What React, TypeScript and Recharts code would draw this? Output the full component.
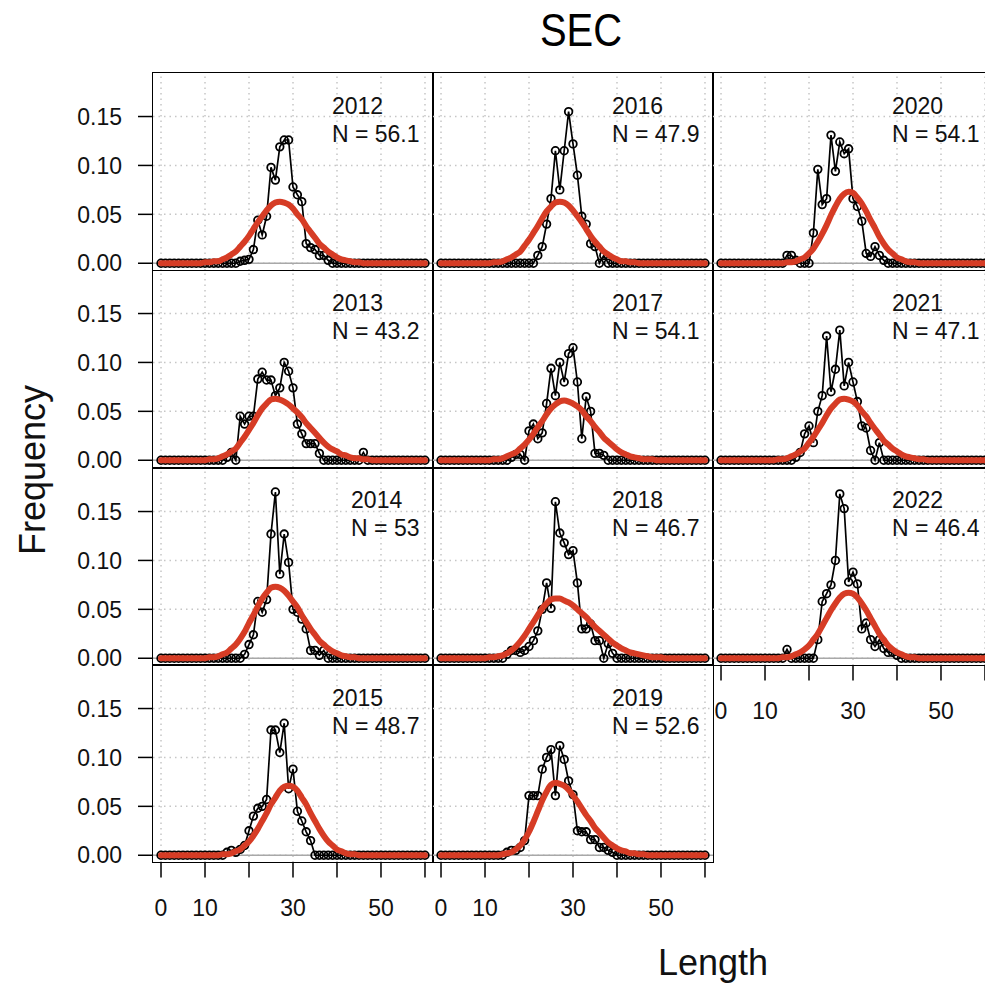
import React from 'react';
import { ComposedChart, Line, XAxis, YAxis, ReferenceLine } from 'recharts';

// length bins (cm)
const LENGTHS = Array.from({ length: 61 }, (_, i) => i);
const X_TICKS = [0, 10, 20, 30, 40, 50, 60];
const X_LABELLED = [0, 10, 30, 50];
const Y_TICKS = [0, 0.05, 0.1, 0.15];

// observed proportions, lengths 14..46 (zero elsewhere)
const OBS_FROM = 14;
const obs2012 = [0, 0, 0, 0, 0.002, 0.003, 0.004, 0.014, 0.044, 0.029, 0.048, 0.098, 0.085, 0.119, 0.126, 0.126, 0.078, 0.07, 0.063, 0.02, 0.016, 0.014, 0.008, 0.008, 0.003, 0, 0, 0, 0, 0, 0, 0, 0];
const obs2013 = [0, 0.003, 0.008, 0, 0.045, 0.037, 0.045, 0.045, 0.083, 0.09, 0.082, 0.082, 0.066, 0.074, 0.1, 0.091, 0.074, 0.037, 0.027, 0.017, 0.017, 0.017, 0.007, 0, 0, 0, 0, 0, 0, 0, 0, 0, 0.008];
const obs2014 = [0, 0, 0, 0, 0, 0.004, 0.014, 0.024, 0.058, 0.047, 0.06, 0.127, 0.17, 0.086, 0.127, 0.098, 0.05, 0.047, 0.04, 0.03, 0.008, 0.008, 0.003, 0.008, 0, 0, 0, 0, 0, 0, 0, 0, 0];
const obs2015 = [0, 0.003, 0.005, 0.003, 0.006, 0.01, 0.025, 0.04, 0.048, 0.05, 0.057, 0.128, 0.128, 0.105, 0.135, 0.068, 0.088, 0.045, 0.035, 0.024, 0.015, 0, 0, 0, 0, 0, 0, 0, 0, 0, 0, 0, 0];
const obs2016 = [0, 0, 0, 0, 0, 0, 0, 0, 0.008, 0.017, 0.04, 0.066, 0.115, 0.075, 0.115, 0.155, 0.122, 0.09, 0.048, 0.04, 0.02, 0.017, 0, 0.008, 0, 0, 0, 0, 0, 0, 0, 0, 0];
const obs2017 = [0, 0, 0.003, 0.006, 0.006, 0, 0.03, 0.037, 0.022, 0.028, 0.058, 0.094, 0.066, 0.1, 0.08, 0.109, 0.115, 0.08, 0.022, 0.065, 0.05, 0.007, 0.007, 0.005, 0, 0, 0, 0, 0, 0, 0, 0, 0];
const obs2018 = [0, 0.004, 0.008, 0.008, 0.006, 0.008, 0.012, 0.018, 0.028, 0.05, 0.077, 0.051, 0.16, 0.128, 0.118, 0.106, 0.11, 0.077, 0.03, 0.03, 0.035, 0.018, 0.018, 0, 0.015, 0.005, 0, 0, 0, 0, 0, 0, 0];
const obs2019 = [0, 0.003, 0.005, 0.005, 0.008, 0.015, 0.061, 0.061, 0.061, 0.088, 0.1, 0.108, 0.061, 0.112, 0.098, 0.076, 0.062, 0.025, 0.024, 0.024, 0.016, 0.016, 0.008, 0.008, 0.005, 0.003, 0, 0, 0, 0, 0, 0, 0];
const obs2020 = [0, 0.008, 0.008, 0.003, 0, 0, 0, 0.031, 0.096, 0.06, 0.066, 0.131, 0.094, 0.124, 0.112, 0.117, 0.066, 0.058, 0.043, 0.01, 0.007, 0.017, 0.008, 0.003, 0, 0, 0, 0, 0, 0, 0, 0, 0];
const obs2021 = [0, 0, 0, 0.003, 0.008, 0.027, 0.035, 0.018, 0.05, 0.066, 0.127, 0.07, 0.093, 0.133, 0.076, 0.1, 0.08, 0.06, 0.035, 0.033, 0.01, 0, 0.018, 0, 0, 0, 0, 0, 0, 0, 0, 0, 0];
const obs2022 = [0, 0.009, 0, 0, 0, 0, 0, 0, 0.019, 0.058, 0.066, 0.075, 0.1, 0.168, 0.153, 0.078, 0.088, 0.076, 0.03, 0.036, 0.019, 0.012, 0.019, 0.01, 0.006, 0.006, 0.003, 0, 0, 0, 0, 0, 0];

// fitted curve, lengths 10..50 (zero elsewhere)
const FIT_FROM = 10;
const fit2012 = [0.001, 0.001, 0.002, 0.002, 0.004, 0.006, 0.009, 0.012, 0.017, 0.022, 0.028, 0.035, 0.042, 0.048, 0.054, 0.059, 0.062, 0.063, 0.062, 0.06, 0.056, 0.05, 0.045, 0.038, 0.032, 0.026, 0.02, 0.016, 0.012, 0.009, 0.006, 0.004, 0.003, 0.002, 0.001, 0.001, 0, 0, 0, 0, 0];
const fit2013 = [0, 0.001, 0.001, 0.002, 0.004, 0.006, 0.009, 0.012, 0.018, 0.024, 0.031, 0.038, 0.046, 0.053, 0.058, 0.062, 0.063, 0.062, 0.06, 0.057, 0.053, 0.049, 0.044, 0.038, 0.033, 0.028, 0.023, 0.018, 0.014, 0.011, 0.009, 0.006, 0.005, 0.003, 0.002, 0.002, 0.001, 0.001, 0, 0, 0];
const fit2014 = [0, 0.001, 0.001, 0.002, 0.004, 0.006, 0.01, 0.014, 0.02, 0.027, 0.036, 0.044, 0.053, 0.061, 0.067, 0.072, 0.073, 0.072, 0.069, 0.064, 0.058, 0.052, 0.044, 0.037, 0.03, 0.024, 0.018, 0.014, 0.01, 0.007, 0.005, 0.003, 0.002, 0.001, 0.001, 0, 0, 0, 0, 0, 0];
const fit2015 = [0, 0, 0, 0, 0.001, 0.001, 0.002, 0.004, 0.006, 0.01, 0.014, 0.02, 0.027, 0.035, 0.043, 0.052, 0.059, 0.066, 0.07, 0.071, 0.07, 0.066, 0.059, 0.052, 0.043, 0.035, 0.027, 0.02, 0.014, 0.01, 0.006, 0.004, 0.002, 0.001, 0.001, 0, 0, 0, 0, 0, 0];
const fit2016 = [0, 0, 0.001, 0.001, 0.002, 0.004, 0.006, 0.009, 0.012, 0.018, 0.024, 0.031, 0.038, 0.046, 0.053, 0.058, 0.062, 0.063, 0.062, 0.059, 0.054, 0.048, 0.042, 0.035, 0.028, 0.022, 0.017, 0.012, 0.009, 0.006, 0.004, 0.002, 0.002, 0.001, 0.001, 0, 0, 0, 0, 0, 0];
const fit2017 = [0, 0, 0.001, 0.001, 0.002, 0.004, 0.006, 0.008, 0.012, 0.016, 0.021, 0.027, 0.034, 0.04, 0.047, 0.053, 0.057, 0.06, 0.061, 0.06, 0.058, 0.055, 0.051, 0.045, 0.04, 0.034, 0.029, 0.023, 0.019, 0.015, 0.011, 0.008, 0.006, 0.004, 0.003, 0.002, 0.001, 0.001, 0.001, 0, 0];
const fit2018 = [0, 0.001, 0.001, 0.002, 0.003, 0.005, 0.008, 0.012, 0.017, 0.023, 0.03, 0.037, 0.044, 0.051, 0.056, 0.06, 0.061, 0.061, 0.059, 0.057, 0.054, 0.05, 0.046, 0.042, 0.037, 0.032, 0.028, 0.024, 0.02, 0.016, 0.013, 0.01, 0.008, 0.006, 0.005, 0.004, 0.003, 0.002, 0.001, 0.001, 0.001];
const fit2019 = [0, 0, 0, 0, 0.001, 0.002, 0.003, 0.006, 0.01, 0.016, 0.024, 0.034, 0.045, 0.056, 0.065, 0.072, 0.074, 0.073, 0.071, 0.067, 0.061, 0.055, 0.048, 0.041, 0.035, 0.028, 0.023, 0.018, 0.013, 0.01, 0.007, 0.005, 0.004, 0.002, 0.002, 0.001, 0.001, 0, 0, 0, 0];
const fit2020 = [0, 0, 0, 0, 0, 0.001, 0.001, 0.002, 0.004, 0.006, 0.01, 0.015, 0.022, 0.03, 0.039, 0.049, 0.058, 0.066, 0.071, 0.073, 0.072, 0.067, 0.061, 0.053, 0.044, 0.036, 0.027, 0.02, 0.014, 0.01, 0.006, 0.004, 0.002, 0.001, 0.001, 0, 0, 0, 0, 0, 0];
const fit2021 = [0, 0, 0, 0.001, 0.001, 0.002, 0.004, 0.006, 0.009, 0.012, 0.018, 0.024, 0.031, 0.038, 0.046, 0.053, 0.058, 0.062, 0.063, 0.062, 0.06, 0.056, 0.05, 0.045, 0.038, 0.032, 0.026, 0.02, 0.016, 0.012, 0.009, 0.006, 0.004, 0.003, 0.002, 0.001, 0.001, 0, 0, 0, 0];
const fit2022 = [0, 0, 0, 0, 0.001, 0.001, 0.002, 0.004, 0.006, 0.009, 0.013, 0.019, 0.025, 0.033, 0.041, 0.049, 0.056, 0.062, 0.066, 0.067, 0.066, 0.062, 0.056, 0.049, 0.041, 0.033, 0.025, 0.019, 0.013, 0.009, 0.006, 0.004, 0.002, 0.001, 0.001, 0, 0, 0, 0, 0, 0];

const PANELS = [
  { year: '2012', n: '56.1', col: 0, row: 0, obs: obs2012, fit: fit2012 },
  { year: '2013', n: '43.2', col: 0, row: 1, obs: obs2013, fit: fit2013 },
  { year: '2014', n: '53', col: 0, row: 2, obs: obs2014, fit: fit2014 },
  { year: '2015', n: '48.7', col: 0, row: 3, obs: obs2015, fit: fit2015, bottom: true },
  { year: '2016', n: '47.9', col: 1, row: 0, obs: obs2016, fit: fit2016 },
  { year: '2017', n: '54.1', col: 1, row: 1, obs: obs2017, fit: fit2017 },
  { year: '2018', n: '46.7', col: 1, row: 2, obs: obs2018, fit: fit2018 },
  { year: '2019', n: '52.6', col: 1, row: 3, obs: obs2019, fit: fit2019, bottom: true },
  { year: '2020', n: '54.1', col: 2, row: 0, obs: obs2020, fit: fit2020 },
  { year: '2021', n: '47.1', col: 2, row: 1, obs: obs2021, fit: fit2021 },
  { year: '2022', n: '46.4', col: 2, row: 2, obs: obs2022, fit: fit2022, bottom: true },
];

const FONT = '"Liberation Sans", Arial, sans-serif';
const RED = '#d63c25';
const GRID = '#c6c6c6';
const PANEL_W = 280;
const PANEL_H = 197.4;
const LEFTS = [153, 433, 713];
const TOP0 = 73;
const YAXIS_W = 153;
const XAXIS_H = 60;
const PAD = 16; // room under a panel so the lowest y label is not clipped
const X_DOMAIN = [-1.82, 61.82];
const Y_DOMAIN = [-0.0073, 0.1945];

const buildRows = (obs: number[], fit: number[]) =>
  LENGTHS.map((len) => ({
    len,
    obs: obs[len - OBS_FROM] ?? 0,
    fit: fit[len - FIT_FROM] ?? 0,
  }));

const Panel = ({ p }: { p: (typeof PANELS)[number] }) => {
  const left = LEFTS[p.col];
  const top = TOP0 + p.row * PANEL_H;
  const hasY = p.col === 0;
  const hasX = !!p.bottom;
  const chartLeft = hasY ? left - YAXIS_W : left;
  const w = PANEL_W + (hasY ? YAXIS_W : 0);
  const h = PANEL_H + (hasX ? XAXIS_H : PAD);
  const rows = buildRows(p.obs, p.fit);
  const margin = { top: 0, right: 0, bottom: hasX ? 0 : PAD, left: 0 };
  // overlay reserves the same axis space through margins, axes hidden
  const overlayMargin = { top: 0, right: 0, bottom: hasX ? XAXIS_H : PAD, left: hasY ? YAXIS_W : 0 };

  return (
    <>
      <div style={{ position: 'absolute', left: chartLeft, top }}>
        <ComposedChart width={w} height={h} data={rows} margin={margin}>
          <XAxis
            dataKey="len"
            type="number"
            domain={X_DOMAIN}
            ticks={X_TICKS}
            interval={0}
            allowDataOverflow
            hide={!hasX}
            height={XAXIS_H}
            axisLine={false}
            tickSize={15}
            tickMargin={22}
            tickLine={{ stroke: '#000', strokeWidth: 1.5 }}
            tick={{ fill: '#111', fontSize: 23 }}
            tickFormatter={(v: number) => (X_LABELLED.includes(v) ? String(v) : '')}
          />
          <YAxis
            type="number"
            domain={Y_DOMAIN}
            ticks={Y_TICKS}
            interval={0}
            allowDataOverflow
            hide={!hasY}
            width={YAXIS_W}
            axisLine={false}
            tickSize={15}
            tickMargin={16}
            tickLine={{ stroke: '#000', strokeWidth: 1.5 }}
            tick={{ fill: '#111', fontSize: 23 }}
            tickFormatter={(v: number) => v.toFixed(2)}
          />
          {X_TICKS.map((x) => (
            <ReferenceLine key={'gx' + x} x={x} stroke={GRID} strokeWidth={1.5} strokeDasharray="1.5 4" />
          ))}
          {Y_TICKS.map((y) => (
            <ReferenceLine key={'gy' + y} y={y} stroke={GRID} strokeWidth={1.5} strokeDasharray="1.5 4" />
          ))}
          <ReferenceLine y={0} stroke="#a8a8a8" strokeWidth={1.5} />
          <Line
            dataKey="obs"
            type="linear"
            stroke="#000"
            strokeWidth={1.7}
            dot={{ r: 3.8, stroke: '#000', strokeWidth: 1.8, fill: 'none' }}
            isAnimationActive={false}
          />
        </ComposedChart>
      </div>
      <div style={{ position: 'absolute', left: chartLeft, top }}>
        <ComposedChart width={w} height={h} data={rows} margin={overlayMargin}>
          <XAxis dataKey="len" type="number" domain={X_DOMAIN} allowDataOverflow hide />
          <YAxis type="number" domain={Y_DOMAIN} allowDataOverflow hide />
          <Line
            dataKey="fit"
            type="monotone"
            stroke={RED}
            strokeWidth={6}
            strokeLinecap="round"
            dot={false}
            isAnimationActive={false}
          />
        </ComposedChart>
      </div>
      <div
        style={{
          position: 'absolute',
          left: left - 0.75,
          top: top - 0.75,
          width: PANEL_W + 1.5,
          height: PANEL_H + 1.5,
          border: '1.5px solid #000',
          boxSizing: 'border-box',
          pointerEvents: 'none',
        }}
      />
      <div
        style={{
          position: 'absolute',
          left: left + 266.5,
          top: top + 18.5,
          transform: 'translateX(-100%)',
          fontSize: 23,
          lineHeight: '28px',
          color: '#111',
          whiteSpace: 'nowrap',
        }}
      >
        <div>{p.year}</div>
        <div>N = {p.n}</div>
      </div>
    </>
  );
};

export default function App() {
  return (
    <div
      style={{
        position: 'absolute',
        left: 0,
        top: 0,
        width: 985,
        height: 983,
        overflow: 'hidden',
        background: '#fff',
        fontFamily: FONT,
      }}
    >
      {PANELS.map((p) => (
        <Panel key={p.year} p={p} />
      ))}
      <svg width={985} height={983} style={{ position: 'absolute', left: 0, top: 0, pointerEvents: 'none' }}>
        <text transform="translate(581,46) scale(0.85,1)" textAnchor="middle" fontFamily={FONT} fontSize={47} fill="#000">
          SEC
        </text>
        <text x={713} y={975} textAnchor="middle" fontFamily={FONT} fontSize={36} fill="#111">
          Length
        </text>
        <text transform="translate(45,470) rotate(-90)" textAnchor="middle" fontFamily={FONT} fontSize={36} fill="#111">
          Frequency
        </text>
      </svg>
    </div>
  );
}
